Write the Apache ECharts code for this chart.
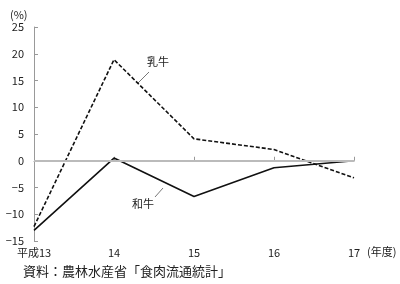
<!DOCTYPE html>
<html><head><meta charset="utf-8">
<script src="https://cdn.jsdelivr.net/npm/echarts@6/dist/echarts.min.js"></script>
<style>html,body{margin:0;padding:0;background:#fff}#c{width:400px;height:284px}</style>
</head><body><div id="c"></div>
<script>
var categories = ['平成13', '14', '15', '16', '17'];
var nyugyu = [-12.3, 18.9, 4.1, 2.1, -3.2];
var wagyu = [-13.0, 0.5, -6.7, -1.3, 0.0];
var yTicks = [-15, -10, -5, 0, 5, 10, 15, 20, 25];
var font = '"Noto Sans CJK JP", sans-serif';
var chart = echarts.init(document.getElementById('c'));
chart.setOption({
  animation: false,
  grid: {left: 34, right: 46, top: 27, bottom: 43},
  xAxis: {
    type: 'category', data: categories, boundaryGap: false,
    axisLine: {lineStyle: {color: '#999', width: 1}},
    axisTick: {inside: true, length: 4, lineStyle: {color: '#999'}},
    axisLabel: {color: '#222', fontSize: 11, fontFamily: font, margin: 6},
    splitLine: {show: false}
  },
  yAxis: {
    type: 'value', min: yTicks[0], max: yTicks[yTicks.length - 1], interval: 5,
    axisLine: {show: true, lineStyle: {color: '#999', width: 1}},
    axisTick: {show: true, inside: true, length: 4, lineStyle: {color: '#999'}},
    axisLabel: {color: '#222', fontSize: 11, fontFamily: font, margin: 10,
      formatter: function (v) { return v < 0 ? '−' + Math.abs(v) : String(v); }},
    splitLine: {show: false}
  },
  series: [
    {name: '乳牛', type: 'line', data: nyugyu, symbol: 'none',
     lineStyle: {color: '#111', width: 1.6, type: [4, 2]},
     markLine: {silent: true, symbol: 'none', label: {show: false},
       lineStyle: {color: '#bbb', width: 2, type: 'solid'}, data: [{yAxis: 0}]}},
    {name: '和牛', type: 'line', data: wagyu, symbol: 'none',
     lineStyle: {color: '#111', width: 1.6, type: 'solid'}}
  ],
  graphic: [
    {type: 'text', left: 10, top: 9, style: {text: '(%)', fill: '#222', font: '11px ' + font}},
    {type: 'text', left: 367, top: 246, style: {text: '(年度)', fill: '#222', font: '11px ' + font}},
    {type: 'text', left: 23, top: 265, style: {text: '資料：農林水産省「食肉流通統計」', fill: '#222', font: '13px ' + font}},
    {type: 'text', left: 147, top: 56, style: {text: '乳牛', fill: '#222', font: '11px ' + font}},
    {type: 'line', shape: {x1: 149, y1: 72, x2: 138, y2: 83}, style: {stroke: '#777', lineWidth: 1}},
    {type: 'text', left: 132, top: 198, style: {text: '和牛', fill: '#222', font: '11px ' + font}},
    {type: 'line', shape: {x1: 155, y1: 197, x2: 163, y2: 188}, style: {stroke: '#777', lineWidth: 1}}
  ]
});
</script></body></html>
